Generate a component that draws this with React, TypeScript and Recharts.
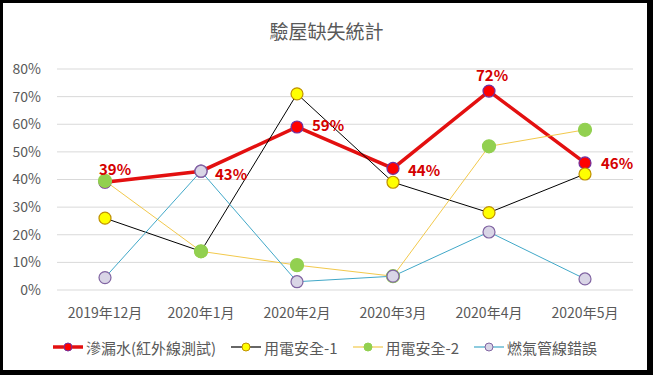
import React from 'react';
import { LineChart, Line, XAxis, YAxis, CartesianGrid, Legend, LabelList } from 'recharts';

const categories = ['2019年12月', '2020年1月', '2020年2月', '2020年3月', '2020年4月', '2020年5月'];
const leakValues = [39, 43, 59, 44, 72, 46];
const elec1Values = [26, 14, 71, 39, 28, 42];
const elec2Values = [39.5, 14, 9, 5, 52, 58];
const gasValues = [4.5, 43, 3, 5, 21, 4];
const yTicks = [0, 10, 20, 30, 40, 50, 60, 70, 80];

const seriesNames = ['滲漏水(紅外線測試)', '用電安全-1', '用電安全-2', '燃氣管線錯誤'];

// where each data label sits relative to its point (dx, dy)
const labelOffsets = [
  [10, -14],
  [30, 2],
  [31, -3],
  [31, 1],
  [3, -17],
  [32, 0],
];

const FONT = "'Noto Sans CJK TC', 'Noto Sans', sans-serif";

const styles = [
  { line: '#E31010', width: 3.5, fill: '#FF0000', stroke: '#7030A0', r: 6 },
  { line: '#000000', width: 1, fill: '#FFFF00', stroke: '#BF9000', r: 6 },
  { line: '#F2C94C', width: 1, fill: '#92D050', stroke: '#92D050', r: 6.5 },
  { line: '#41A8C8', width: 1, fill: '#D9D5E6', stroke: '#8064A2', r: 6 },
];

const chartData = categories.map((c, i) => ({
  month: c,
  leak: leakValues[i],
  elec1: elec1Values[i],
  elec2: elec2Values[i],
  gas: gasValues[i],
}));

const PctLabel = (props: any) => {
  const { x, y, value, index } = props;
  const [dx, dy] = labelOffsets[index] || [0, -12];
  return (
    <text
      x={x + dx}
      y={y + dy}
      textAnchor="middle"
      dominantBaseline="central"
      fill="#D40000"
      fontSize={15}
      fontWeight="bold"
      fontFamily={FONT}
    >
      {value}%
    </text>
  );
};

const LegendContent = () => (
  <div
    style={{
      display: 'flex',
      justifyContent: 'center',
      alignItems: 'center',
      height: 24,
      paddingLeft: 30,
      fontFamily: FONT,
      fontSize: 15,
      color: '#595959',
    }}
  >
    {seriesNames.map((name, i) => {
      const s = styles[i];
      return (
        <div key={name} style={{ display: 'flex', alignItems: 'center', marginRight: 14 }}>
          <svg width={32} height={14} style={{ marginRight: 2 }}>
            <line x1={1} y1={7} x2={31} y2={7} stroke={s.line} strokeWidth={i === 0 ? 3.5 : 1.2} />
            <circle cx={16} cy={7} r={4} fill={s.fill} stroke={s.stroke} strokeWidth={1} />
          </svg>
          <span>{name}</span>
        </div>
      );
    })}
  </div>
);

const App: React.FC = () => {
  const keys = ['leak', 'elec1', 'elec2', 'gas'];
  return (
    <div style={{ position: 'absolute', left: 0, top: 0, width: 653, height: 375, background: '#fff' }}>
      <div
        style={{
          position: 'absolute',
          left: 0,
          top: 18,
          width: 653,
          textAlign: 'center',
          fontFamily: FONT,
          fontSize: 19,
          color: '#595959',
          lineHeight: '26px',
        }}
      >
        驗屋缺失統計
      </div>
      <LineChart
        width={653}
        height={375}
        data={chartData}
        margin={{ top: 69, right: 20, left: 0, bottom: 16 }}
        style={{ position: 'absolute', left: 0, top: 0 }}
      >
        <CartesianGrid vertical={false} stroke="#D9D9D9" />
        <XAxis
          dataKey="month"
          height={45}
          padding={{ left: 48, right: 48 }}
          axisLine={false}
          tickLine={false}
          tickMargin={12}
          tick={{ fill: '#595959', fontSize: 14, fontFamily: FONT }}
          interval={0}
        />
        <YAxis
          width={57}
          domain={[0, 80]}
          ticks={yTicks}
          tickFormatter={(v: number) => `${v}%`}
          axisLine={false}
          tickLine={false}
          tickMargin={10}
          tick={{ fill: '#595959', fontSize: 14, fontFamily: FONT }}
        />
        <Legend verticalAlign="bottom" content={<LegendContent />} />
        {keys.map((k, i) => {
          const s = styles[i];
          return (
            <Line
              key={k}
              type="linear"
              dataKey={k}
              name={seriesNames[i]}
              stroke={s.line}
              strokeWidth={s.width}
              dot={{ r: s.r, fill: s.fill, stroke: s.stroke, strokeWidth: 1.2 }}
              activeDot={false}
              isAnimationActive={false}
            >
              {i === 0 ? <LabelList dataKey={k} content={<PctLabel />} /> : null}
            </Line>
          );
        })}
      </LineChart>
      <div
        style={{
          position: 'absolute',
          left: 0,
          top: 0,
          width: 653,
          height: 375,
          boxSizing: 'border-box',
          borderStyle: 'solid',
          borderColor: '#000',
          borderWidth: '3px 6px 5px 3px',
          pointerEvents: 'none',
        }}
      />
    </div>
  );
};

export default App;
